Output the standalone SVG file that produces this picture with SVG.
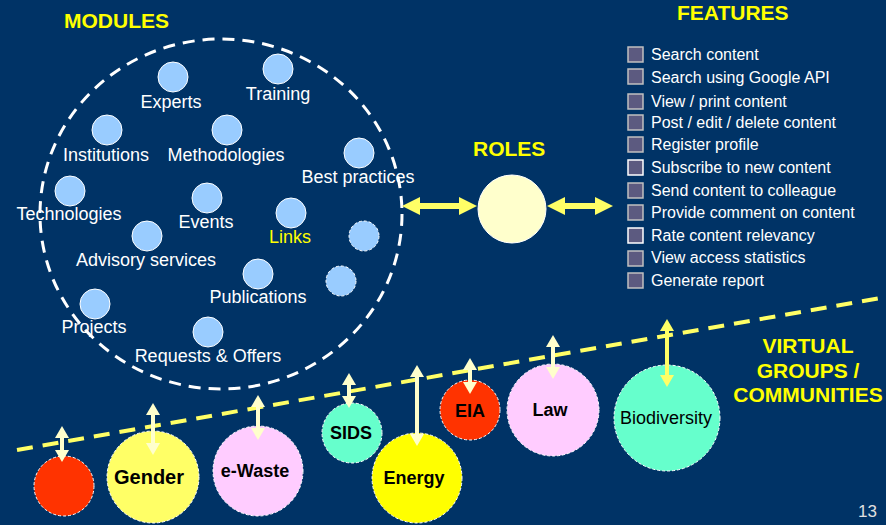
<svg xmlns="http://www.w3.org/2000/svg" width="886" height="525" viewBox="0 0 886 525">
<style>
text{font-family:"Liberation Sans",Arial,sans-serif}
.title{fill:#FFFF00;font-weight:bold;font-size:21px}
.mod{fill:#99CCFF;stroke:#FFFFFF;stroke-width:1}
.moddash{fill:#99CCFF;stroke:#FFFFFF;stroke-width:1;stroke-dasharray:3 2}
.ml{fill:#FFFFFF;font-size:18px;text-anchor:middle}
.box{fill:#5C5A80;stroke:#C0C0C0;stroke-width:1.5}
.ft{fill:#FFFFFF;font-size:16px}
.grp{stroke:#FFFFFF;stroke-width:1;stroke-dasharray:3 2}
.gl{fill:#000000;font-size:18px;font-weight:bold;text-anchor:middle}
.va{stroke:#FFFFCC;stroke-width:4;marker-start:url(#vh);marker-end:url(#vh)}
.ha{stroke:#FFFF66;stroke-width:6;marker-start:url(#hh);marker-end:url(#hh)}
</style>
<defs>
<marker id="vh" markerUnits="userSpaceOnUse" viewBox="0 0 12 14" markerWidth="12" markerHeight="14" refX="2" refY="7" orient="auto-start-reverse"><path d="M0,0 L12,7 L0,14 z" fill="#FFFFCC"/></marker>
<marker id="vhy" markerUnits="userSpaceOnUse" viewBox="0 0 12 14" markerWidth="12" markerHeight="14" refX="2" refY="7" orient="auto-start-reverse"><path d="M0,0 L12,7 L0,14 z" fill="#FFFF66"/></marker>
<marker id="hh" markerUnits="userSpaceOnUse" viewBox="0 0 18 18" markerWidth="18" markerHeight="18" refX="2" refY="9" orient="auto-start-reverse"><path d="M0,0 L18,9 L0,18 z" fill="#FFFF66"/></marker>
</defs>
<rect x="0" y="0" width="886" height="525" fill="#003366"/>

<text class="title" x="64" y="28">MODULES</text>
<text class="title" x="677" y="20">FEATURES</text>

<g id="modules">
<ellipse cx="221" cy="214" rx="181" ry="175" fill="none" stroke="#FFFFFF" stroke-width="3" stroke-dasharray="12 8"/>
<g id="m-experts"><circle class="mod" cx="173" cy="77" r="15"/><text class="ml" x="171" y="108">Experts</text></g>
<g id="m-training"><circle class="mod" cx="278" cy="69" r="15"/><text class="ml" x="278" y="100">Training</text></g>
<g id="m-institutions"><circle class="mod" cx="107" cy="130" r="15"/><text class="ml" x="106" y="161">Institutions</text></g>
<g id="m-methodologies"><circle class="mod" cx="227" cy="130" r="15"/><text class="ml" x="226" y="161">Methodologies</text></g>
<g id="m-best"><circle class="mod" cx="359" cy="153" r="15"/><text class="ml" x="358" y="183">Best practices</text></g>
<g id="m-technologies"><circle class="mod" cx="70" cy="191" r="15"/><text class="ml" x="69" y="220">Technologies</text></g>
<g id="m-events"><circle class="mod" cx="207" cy="198" r="15"/><text class="ml" x="206" y="228">Events</text></g>
<g id="m-links"><circle class="mod" cx="291" cy="213" r="15"/><text class="ml" x="290" y="243" style="fill:#FFFF00">Links</text></g>
<g id="m-advisory"><circle class="mod" cx="147" cy="236" r="15"/><text class="ml" x="146" y="266">Advisory services</text></g>
<g id="m-extra1"><circle class="moddash" cx="364" cy="236" r="15"/></g>
<g id="m-publications"><circle class="mod" cx="258" cy="274" r="15"/><text class="ml" x="258" y="303">Publications</text></g>
<g id="m-extra2"><circle class="moddash" cx="341" cy="281" r="15"/></g>
<g id="m-projects"><circle class="mod" cx="95" cy="304" r="15"/><text class="ml" x="94" y="333">Projects</text></g>
<g id="m-requests"><circle class="mod" cx="208" cy="332" r="15"/><text class="ml" x="208" y="362">Requests &amp; Offers</text></g>
</g>

<g id="roles">
<text class="title" x="473" y="156">ROLES</text>
<circle cx="512" cy="209" r="34" fill="#FFFFCC" stroke="#FFFFFF" stroke-width="1"/>
</g>

<g id="features">
<rect class="box" x="628" y="47" width="15" height="15"/><text class="ft" x="651" y="60">Search content</text>
<rect class="box" x="628" y="69" width="15" height="15"/><text class="ft" x="651" y="83">Search using Google API</text>
<rect class="box" x="628" y="94" width="15" height="15"/><text class="ft" x="651" y="107">View / print content</text>
<rect class="box" x="628" y="115" width="15" height="15"/><text class="ft" x="651" y="128">Post / edit / delete content</text>
<rect class="box" x="628" y="137" width="15" height="15"/><text class="ft" x="651" y="150">Register profile</text>
<rect class="box" x="628" y="160" width="15" height="15" style="stroke:#FFFFFF"/><text class="ft" x="651" y="173">Subscribe to new content</text>
<rect class="box" x="628" y="183" width="15" height="15"/><text class="ft" x="651" y="196">Send content to colleague</text>
<rect class="box" x="628" y="205" width="15" height="15"/><text class="ft" x="651" y="218">Provide comment on content</text>
<rect class="box" x="628" y="228" width="15" height="15" style="stroke:#FFFFFF"/><text class="ft" x="651" y="241">Rate content relevancy</text>
<rect class="box" x="628" y="251" width="15" height="15"/><text class="ft" x="651" y="263">View access statistics</text>
<rect class="box" x="628" y="273" width="15" height="15"/><text class="ft" x="651" y="286">Generate report</text>
</g>

<line x1="17" y1="450" x2="900" y2="294.5" stroke="#FFFF66" stroke-width="4" stroke-dasharray="16 10"/>

<g id="vg-title">
<text class="title" x="808" y="353" text-anchor="middle">VIRTUAL</text>
<text class="title" x="808" y="378" text-anchor="middle">GROUPS /</text>
<text class="title" x="808" y="402" text-anchor="middle">COMMUNITIES</text>
</g>

<g id="g-red"><circle class="grp" cx="64" cy="486" r="30" fill="#FF3300"/></g>
<g id="g-gender"><circle class="grp" cx="153" cy="477" r="46" fill="#FFFF66"/><text class="gl" x="149" y="484" style="font-size:20px">Gender</text></g>
<g id="g-ewaste"><circle class="grp" cx="258" cy="471" r="45" fill="#FFCCFF"/><text class="gl" x="255" y="477">e-Waste</text></g>
<g id="g-sids"><circle class="grp" cx="352" cy="433" r="30" fill="#66FFCC"/><text class="gl" x="351" y="439">SIDS</text></g>
<g id="g-energy"><circle class="grp" cx="417" cy="478" r="45" fill="#FFFF00"/><text class="gl" x="414" y="484">Energy</text></g>
<g id="g-eia"><circle class="grp" cx="470" cy="410" r="30" fill="#FF3300"/><text class="gl" x="470" y="417">EIA</text></g>
<g id="g-law"><circle class="grp" cx="553" cy="410" r="46" fill="#FFCCFF"/><text class="gl" x="550" y="416">Law</text></g>
<g id="g-biodiversity"><circle class="grp" cx="667" cy="418" r="53" fill="#66FFCC"/><text class="gl" x="666" y="424" style="font-weight:normal">Biodiversity</text></g>

<g id="connectors">
<line class="ha" x1="418" y1="206" x2="461" y2="206"/>
<line class="ha" x1="563" y1="206" x2="597" y2="206"/>
<line class="va" x1="62" y1="436" x2="62" y2="452"/>
<line class="va" x1="153" y1="413" x2="153" y2="445"/>
<line class="va" x1="258" y1="405" x2="258" y2="430"/>
<line class="va" x1="349" y1="383" x2="349" y2="398"/>
<line class="va" x1="417" y1="375" x2="417" y2="436"/>
<line class="va" x1="470" y1="368" x2="470" y2="384"/>
<line class="va" x1="553" y1="345" x2="553" y2="369"/>
<line class="va" x1="667" y1="329" x2="667" y2="377" style="stroke:#FFFF66;marker-start:url(#vhy);marker-end:url(#vhy)"/>
</g>

<text x="877" y="517" text-anchor="end" fill="#E0E0E0" font-size="17" font-family="Liberation Sans,Arial,sans-serif">13</text>
</svg>
